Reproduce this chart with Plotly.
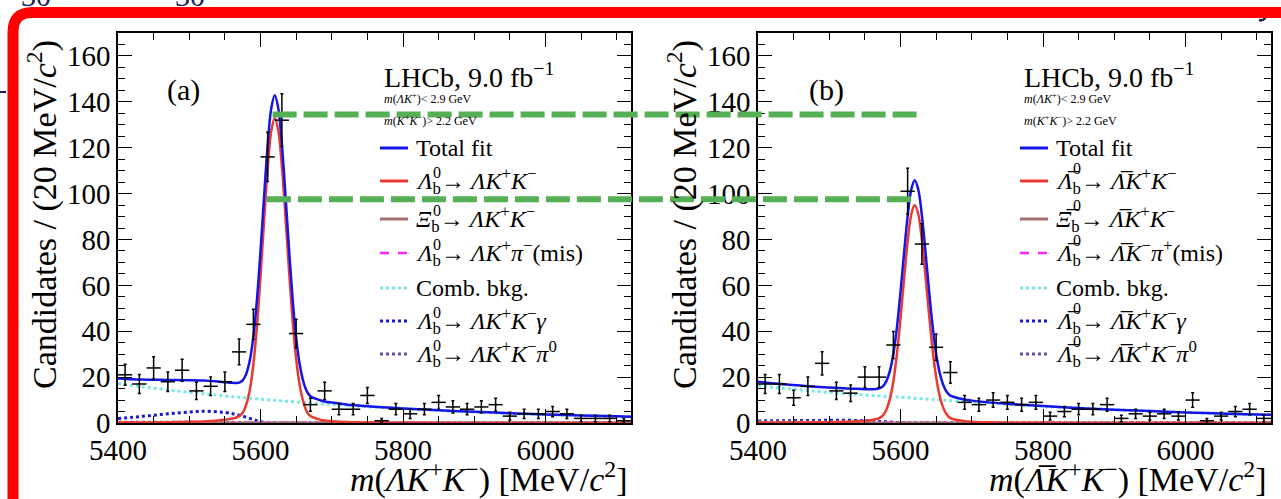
import numpy as np
import plotly.graph_objects as go

# ---------------- data ----------------
bin_centers = [5410, 5430, 5450, 5470, 5490, 5510, 5530, 5550, 5570, 5590,
               5610, 5630, 5650, 5670, 5690, 5710, 5730, 5750, 5770, 5790,
               5810, 5830, 5850, 5870, 5890, 5910, 5930, 5950, 5970, 5990,
               6010, 6030, 6050, 6070, 6090, 6110]
bin_half_width = 10
counts_a = [21, 17, 24, 18, 23, 14, 16, 18, 31, 43,
            116, 132, 39, 8, 14, 6, 6, 12, 1, 6,
            4, 6, 9, 7, 6, 7, 8, 3, 4, 4,
            5, 4, 2, 2, 2, 1]
counts_b = [17, 17, 11, 16, 26, 14, 13, 20, 20, 34,
            101, 78, 33, 22, 9, 8, 10, 9, 8, 9,
            3, 5, 6, 6, 8, 2, 4, 3, 4, 3,
            10, 1, 3, 5, 6, 2]

curve_x = [5400, 5420, 5440, 5460, 5480, 5500, 5520, 5540, 5550, 5560,
           5565, 5570, 5575, 5580, 5585, 5590, 5595, 5600, 5605, 5610,
           5615, 5620, 5625, 5630, 5635, 5640, 5645, 5650, 5655, 5660,
           5665, 5670, 5680, 5690, 5700, 5720, 5750, 5800, 5850, 5900,
           5950, 6000, 6050, 6100, 6120]

total_a = [19.4, 19.05, 18.9, 18.8, 18.76, 18.67, 18.52, 18.09, 17.79, 17.5,
           17.46, 17.61, 18.57, 21.43, 27.3, 37.66, 53.7, 74.8, 98.6, 120.9,
           137.0, 142.9, 137.2, 121.5, 99.6, 76.0, 54.4, 37.2, 25.6, 18.2,
           13.8, 11.7, 10.3, 9.4, 8.9, 8.1, 7.3, 6.34, 5.55, 4.88,
           4.28, 3.75, 3.3, 2.9, 2.75]
signal_a = [0.2, 0.2, 0.25, 0.3, 0.4, 0.5, 0.7, 1.1, 1.4, 1.9,
            2.3, 3.0, 4.5, 8.0, 14.5, 25.5, 42.2, 63.8, 88.0, 110.7,
            127.0, 133.0, 127.4, 111.9, 90.1, 66.6, 45.1, 28.0, 16.5, 9.3,
            5.0, 3.0, 1.8, 1.1, 0.8, 0.4, 0.2, 0.1, 0.05, 0.0,
            0.0, 0.0, 0.0, 0.0, 0.0]
comb_a = [17.2, 16.35, 15.55, 14.8, 14.06, 13.37, 12.72, 12.09, 11.79, 11.5,
          11.36, 11.21, 11.07, 10.93, 10.8, 10.66, 10.53, 10.4, 10.27, 10.14,
          10.01, 9.88, 9.76, 9.64, 9.52, 9.4, 9.28, 9.17, 9.05, 8.94,
          8.83, 8.72, 8.5, 8.29, 8.08, 7.69, 7.12, 6.24, 5.47, 4.8,
          4.2, 3.68, 3.23, 2.83, 2.69]
gamma_a = [2.0, 2.5, 3.1, 3.7, 4.3, 4.8, 5.1, 4.9, 4.6, 4.1,
           3.8, 3.4, 3.0, 2.5, 2.0, 1.5, 1.0, 0.6, 0.3, 0.1,
           0, 0, 0, 0, 0, 0, 0, 0, 0, 0,
           0, 0, 0, 0, 0, 0, 0, 0, 0, 0,
           0, 0, 0, 0, 0]
pi0_a = [0.3, 0.3, 0.3, 0.3, 0.3, 0.3, 0.3, 0.3, 0.3, 0.28,
         0.26, 0.24, 0.2, 0.16, 0.12, 0.08, 0.05, 0.03, 0.01, 0,
         0, 0, 0, 0, 0, 0, 0, 0, 0, 0,
         0, 0, 0, 0, 0, 0, 0, 0, 0, 0,
         0, 0, 0, 0, 0]

total_b = [17.95, 17.35, 16.78, 16.3, 15.8, 15.45, 15.1, 14.9, 14.75, 14.75,
           14.8, 15.1, 15.9, 18.15, 22.6, 30.15, 41.8, 57.05, 74.07, 90.1,
           101.6, 105.8, 101.7, 90.5, 74.8, 58.0, 42.5, 30.2, 21.9, 16.6,
           13.5, 11.95, 10.9, 10.2, 9.75, 9.1, 8.35, 7.37, 6.53, 5.8,
           5.2, 4.6, 4.1, 3.7, 3.55]
signal_b = [0.15, 0.15, 0.18, 0.2, 0.3, 0.35, 0.5, 0.8, 1.0, 1.35,
            1.65, 2.15, 3.2, 5.7, 10.4, 18.2, 30.1, 45.6, 62.8, 79.0,
            90.7, 95.0, 91.0, 79.9, 64.3, 47.6, 32.2, 20.0, 11.8, 6.6,
            3.6, 2.15, 1.3, 0.8, 0.55, 0.3, 0.15, 0.07, 0.03, 0.0,
            0.0, 0.0, 0.0, 0.0, 0.0]
comb_b = [16.3, 15.6, 15.0, 14.4, 13.8, 13.3, 12.8, 12.4, 12.2, 12.0,
          11.9, 11.8, 11.7, 11.6, 11.5, 11.4, 11.3, 11.2, 11.1, 11.0,
          10.9, 10.8, 10.7, 10.6, 10.5, 10.4, 10.3, 10.2, 10.1, 10.0,
          9.9, 9.8, 9.6, 9.4, 9.2, 8.8, 8.2, 7.3, 6.5, 5.8,
          5.2, 4.6, 4.1, 3.7, 3.55]
gamma_b = [0.9, 1.0, 1.0, 1.1, 1.1, 1.2, 1.2, 1.1, 1.0, 0.9,
           0.8, 0.75, 0.65, 0.55, 0.45, 0.35, 0.25, 0.15, 0.1, 0.05,
           0, 0, 0, 0, 0, 0, 0, 0, 0, 0,
           0, 0, 0, 0, 0, 0, 0, 0, 0, 0,
           0, 0, 0, 0, 0]
pi0_b = [0.6, 0.6, 0.6, 0.6, 0.6, 0.6, 0.6, 0.6, 0.55, 0.5,
         0.45, 0.4, 0.35, 0.3, 0.25, 0.2, 0.15, 0.1, 0.07, 0.05,
         0, 0, 0, 0, 0, 0, 0, 0, 0, 0,
         0, 0, 0, 0, 0, 0, 0, 0, 0, 0,
         0, 0, 0, 0, 0]

flat_x = [5400, 5500, 5560, 5600, 5650, 5700, 5800, 5900, 6000, 6120]
misid_a = [0.15, 0.2, 0.25, 0.2, 0.1, 0.05, 0.03, 0.02, 0.01, 0.0]
xib_a = [0.05, 0.05, 0.05, 0.05, 0.05, 0.05, 0.05, 0.05, 0.05, 0.05]
misid_b = [0.15, 0.2, 0.25, 0.2, 0.1, 0.05, 0.03, 0.02, 0.01, 0.0]
xib_b = [0.05, 0.05, 0.05, 0.05, 0.05, 0.05, 0.05, 0.05, 0.05, 0.05]

# green dashed overlay lines: heights and x ends (mass units of each panel)
green_levels = [134.5, 97.5]
green_start_a = [5617, 5609]
green_end_b = [5630, 5621]

x_range = [5400, 6120]
y_range = [0, 170]

# ---------------- layout geometry ----------------
W, H = 1281, 499
dom_a = [118 / W, 631 / W]
dom_b = [758 / W, 1271 / W]
dom_y = [1 - 423 / H, 1 - 33 / H]
FONT = "Liberation Serif"

BLUE = "rgb(20,20,235)"
RED = "rgb(232,58,48)"
BROWN = "rgb(165,110,112)"
MAGENTA = "rgb(245,40,245)"
CYAN = "rgb(120,232,232)"
DBLUE = "rgb(25,25,205)"
PURPLE = "rgb(95,85,165)"
GREEN = "rgb(85,175,85)"
NAVY = "rgb(30,30,80)"

fig = go.Figure()


def add_panel(xa, ya, total, signal, comb, gamma, pi0, misid, xib, counts):
    common = dict(xaxis=xa, yaxis=ya, showlegend=False, hoverinfo="skip")
    fig.add_trace(go.Scatter(x=curve_x, y=comb, mode="lines",
                             line=dict(color=CYAN, width=3, dash="dot", shape="spline"), **common))
    fig.add_trace(go.Scatter(x=curve_x, y=gamma, mode="lines",
                             line=dict(color=DBLUE, width=3, dash="dot", shape="spline"), **common))
    fig.add_trace(go.Scatter(x=curve_x, y=pi0, mode="lines",
                             line=dict(color=PURPLE, width=3, dash="dot", shape="spline"), **common))
    fig.add_trace(go.Scatter(x=flat_x, y=misid, mode="lines",
                             line=dict(color=MAGENTA, width=2.5, dash="dash"), **common))
    fig.add_trace(go.Scatter(x=flat_x, y=xib, mode="lines",
                             line=dict(color=BROWN, width=3), **common))
    fig.add_trace(go.Scatter(x=curve_x, y=signal, mode="lines",
                             line=dict(color=RED, width=2.5, shape="spline"), **common))
    fig.add_trace(go.Scatter(x=curve_x, y=total, mode="lines",
                             line=dict(color=BLUE, width=2.5, shape="spline"), **common))
    errs = np.sqrt(np.array(counts, dtype=float))
    fig.add_trace(go.Scatter(
        x=bin_centers, y=counts, mode="markers",
        marker=dict(size=2, color="black"),
        error_x=dict(type="constant", value=bin_half_width, color="black", thickness=1.5, width=0),
        error_y=dict(type="data", array=errs, color="black", thickness=1.5, width=1.5),
        **common))


add_panel("x", "y", total_a, signal_a, comb_a, gamma_a, pi0_a, misid_a, xib_a, counts_a)
add_panel("x2", "y2", total_b, signal_b, comb_b, gamma_b, pi0_b, misid_b, xib_b, counts_b)

axis_common = dict(showline=True, linecolor="black", linewidth=1.5, mirror="ticks",
                   ticks="inside", ticklen=14, tickwidth=1.3, tickcolor="black",
                   showgrid=False, zeroline=False, automargin=False,
                   tickfont=dict(family=FONT, size=29, color="black"))
xaxis_common = dict(axis_common, range=x_range, tick0=5400, dtick=200,
                    minor=dict(dtick=50, ticklen=7, tickwidth=1.2, tickcolor="black", ticks="inside"))
yaxis_common = dict(axis_common, range=y_range, tick0=0, dtick=20,
                    minor=dict(dtick=5, ticklen=7, tickwidth=1.2, tickcolor="black", ticks="inside"))

fig.update_layout(
    width=W, height=H, margin=dict(l=0, r=0, t=0, b=0, pad=0, autoexpand=False),
    paper_bgcolor="white", plot_bgcolor="white",
    xaxis=dict(xaxis_common, domain=dom_a, anchor="y"),
    yaxis=dict(yaxis_common, domain=dom_y, anchor="x"),
    xaxis2=dict(xaxis_common, domain=dom_b, anchor="y2"),
    yaxis2=dict(yaxis_common, domain=dom_y, anchor="x2"),
)

ann = []
shapes = []


def px(xp):
    return xp / W


def py(yp):
    return 1 - yp / H


def add_text(xp, yp, text, size, xanchor="left", yanchor="middle", color="black", angle=0):
    ann.append(dict(x=px(xp), y=py(yp), xref="paper", yref="paper", text=text,
                    showarrow=False, xanchor=xanchor, yanchor=yanchor, textangle=angle,
                    font=dict(family=FONT, size=size, color=color)))


# axis titles
for x_left in [118, 758]:
    add_text(x_left - 76, 215, "Candidates / (20 MeV/<i>c</i><sup>2</sup>)", 34,
             xanchor="center", yanchor="middle", angle=-90)
L = "<i>Λ</i>"
LB = "<i>Λ\u0305</i>"
add_text(629, 477, "<i>m</i>(" + L + "<i>K</i><sup>+</sup><i>K</i><sup>−</sup>) [MeV/<i>c</i><sup>2</sup>]",
         34, xanchor="right")
add_text(1268, 477, "<i>m</i>(" + LB + "<i>K</i><sup>+</sup><i>K</i><sup>−</sup>) [MeV/<i>c</i><sup>2</sup>]",
         34, xanchor="right")

# panel labels
add_text(183, 90, "(a)", 30, xanchor="center")
add_text(826, 90, "(b)", 30, xanchor="center")

# legends
rows = [148, 181, 219, 253, 288, 321, 354]
styles = [(BLUE, "solid", 3), (RED, "solid", 3), (BROWN, "solid", 3), (MAGENTA, "dash", 2.5),
          (CYAN, "dot", 3), (DBLUE, "dot", 3), (PURPLE, "dot", 3)]
KK = "<i>K</i><sup>+</sup><i>K</i><sup>−</sup>"
lab_a = ["Total fit",
         L + "<sub>b</sub>→ " + L + KK,
         "<i>Ξ</i><sub>b</sub>→ " + L + KK,
         L + "<sub>b</sub>→ " + L + "<i>K</i><sup>+</sup><i>π</i><sup>−</sup>(mis)",
         "Comb. bkg.",
         L + "<sub>b</sub>→ " + L + KK + "<i>γ</i>",
         L + "<sub>b</sub>→ " + L + KK + "<i>π</i><sup>0</sup>"]
lab_b = ["Total fit",
         LB + "<sub>b</sub>→ " + LB + KK,
         "<i>Ξ\u0305</i><sub>b</sub>→ " + LB + KK,
         LB + "<sub>b</sub>→ " + LB + "<i>K</i><sup>−</sup><i>π</i><sup>+</sup>(mis)",
         "Comb. bkg.",
         LB + "<sub>b</sub>→ " + LB + KK + "<i>γ</i>",
         LB + "<sub>b</sub>→ " + LB + KK + "<i>π</i><sup>0</sup>"]
has_zero = [False, True, True, True, False, True, True]

for x0, labels, zdy in [(380, lab_a, 9), (1020, lab_b, 13)]:
    add_text(x0 + 2, 75, "LHCb, 9.0 fb<sup>−1</sup>", 28)
    add_text(x0 + 2, 99, "<i>m</i>(<i>ΛK</i><sup>+</sup>)< 2.9 GeV", 12)
    add_text(x0 + 2, 120, "<i>m</i>(<i>K</i><sup>+</sup><i>K</i><sup>−</sup>)> 2.2 GeV", 12)
    for yrow, (col, dash, wd), lab, hz in zip(rows, styles, labels, has_zero):
        shapes.append(dict(type="line", xref="paper", yref="paper",
                           x0=px(x0), x1=px(x0 + 28), y0=py(yrow), y1=py(yrow),
                           line=dict(color=col, width=wd, dash=dash)))
        add_text(x0 + 34, yrow, lab, 24)
        if hz:
            # superscript 0 stacked above the subscript b
            add_text(x0 + 51, yrow - zdy, "0", 16)


# green dashed overlay lines spanning both panels
def xa_to_paper(v, dom):
    return dom[0] + (v - x_range[0]) / (x_range[1] - x_range[0]) * (dom[1] - dom[0])


for lev, xs, xe in zip(green_levels, green_start_a, green_end_b):
    shapes.append(dict(type="line", xref="paper", yref="y",
                       x0=xa_to_paper(xs, dom_a), x1=xa_to_paper(xe, dom_b), y0=lev, y1=lev,
                       line=dict(color=GREEN, width=6, dash="24px,7px"), layer="above"))

# clipped glyphs from the surrounding page
add_text(36, 14, "30", 30, xanchor="center", yanchor="bottom", color=NAVY)
add_text(190, 14, "30", 30, xanchor="center", yanchor="bottom", color=NAVY)
shapes.append(dict(type="line", xref="paper", yref="paper", x0=px(0), x1=px(6),
                   y0=py(92), y1=py(92), line=dict(color=NAVY, width=2)))
shapes.append(dict(type="path", xref="paper", yref="paper",
                   path="M {a},{b} Q {a},{c} {d},{e}".format(a=px(1266), b=py(12), c=py(22),
                                                             d=px(1259), e=py(20)),
                   line=dict(color=NAVY, width=2.5)))

# red frame with rounded top-left corner
path = "M {a},{b} L {a},{c} Q {a},{d} {e},{d} L {f},{d}".format(
    a=px(13), b=py(530), c=py(32), d=py(12.5), e=px(32), f=px(1300))
shapes.append(dict(type="path", xref="paper", yref="paper", path=path,
                   line=dict(color="rgb(255,0,0)", width=11), layer="above"))

fig.update_layout(annotations=ann, shapes=shapes)
fig.write_html("out.html", config={"displayModeBar": False},
               post_script="document.body.style.margin='0px';")
